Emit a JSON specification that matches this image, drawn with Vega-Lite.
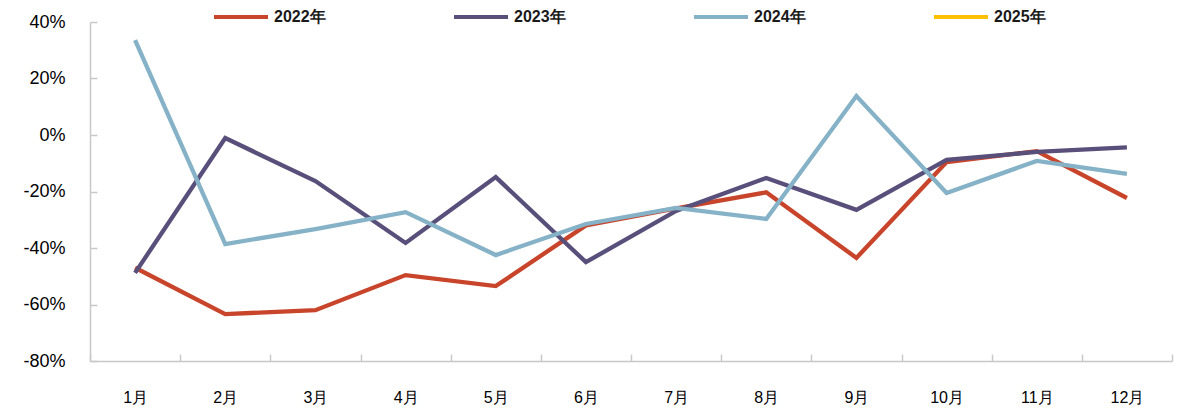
{
  "$schema": "https://vega.github.io/schema/vega-lite/v6.json",
  "autosize": "none",
  "width": 1082,
  "height": 339,
  "padding": {"left": 90, "top": 22, "right": 11, "bottom": 50},
  "background": "white",
  "config": {"view": {"stroke": null}, "font": "Liberation Sans"},
  "data": {"values": [
    {"m": "1月", "year": "2022年", "v": -47},
    {"m": "2月", "year": "2022年", "v": -63.4},
    {"m": "3月", "year": "2022年", "v": -62},
    {"m": "4月", "year": "2022年", "v": -49.6},
    {"m": "5月", "year": "2022年", "v": -53.5},
    {"m": "6月", "year": "2022年", "v": -32},
    {"m": "7月", "year": "2022年", "v": -26},
    {"m": "8月", "year": "2022年", "v": -20.3},
    {"m": "9月", "year": "2022年", "v": -43.5},
    {"m": "10月", "year": "2022年", "v": -9.6},
    {"m": "11月", "year": "2022年", "v": -5.7},
    {"m": "12月", "year": "2022年", "v": -22.3},
    {"m": "1月", "year": "2023年", "v": -48.8},
    {"m": "2月", "year": "2023年", "v": -1.1},
    {"m": "3月", "year": "2023年", "v": -16.3},
    {"m": "4月", "year": "2023年", "v": -38.2},
    {"m": "5月", "year": "2023年", "v": -14.9},
    {"m": "6月", "year": "2023年", "v": -45},
    {"m": "7月", "year": "2023年", "v": -26.9},
    {"m": "8月", "year": "2023年", "v": -15.2},
    {"m": "9月", "year": "2023年", "v": -26.5},
    {"m": "10月", "year": "2023年", "v": -8.8},
    {"m": "11月", "year": "2023年", "v": -6},
    {"m": "12月", "year": "2023年", "v": -4.4},
    {"m": "1月", "year": "2024年", "v": 33.6},
    {"m": "2月", "year": "2024年", "v": -38.6},
    {"m": "3月", "year": "2024年", "v": -33.3},
    {"m": "4月", "year": "2024年", "v": -27.3},
    {"m": "5月", "year": "2024年", "v": -42.5},
    {"m": "6月", "year": "2024年", "v": -31.5},
    {"m": "7月", "year": "2024年", "v": -25.8},
    {"m": "8月", "year": "2024年", "v": -29.7},
    {"m": "9月", "year": "2024年", "v": 13.8},
    {"m": "10月", "year": "2024年", "v": -20.5},
    {"m": "11月", "year": "2024年", "v": -9.2},
    {"m": "12月", "year": "2024年", "v": -13.8}
  ]},
  "mark": {"type": "line", "strokeWidth": 4.3, "strokeJoin": "miter", "strokeCap": "butt"},
  "encoding": {
    "x": {
      "field": "m", "type": "ordinal",
      "sort": ["1月","2月","3月","4月","5月","6月","7月","8月","9月","10月","11月","12月"],
      "scale": {"paddingInner": 0, "paddingOuter": 0},
      "axis": {
        "title": null, "labelAngle": 0, "labelFontSize": 16, "labelColor": "#000000",
        "labelFont": "Liberation Sans",
        "domainColor": "#c8c8c8", "domainWidth": 1.5, "tickColor": "#c8c8c8", "tickWidth": 1.5,
        "tickSize": -7, "tickBand": "extent", "labelPadding": 35
      }
    },
    "y": {
      "field": "v", "type": "quantitative",
      "scale": {"domain": [-80, 40], "nice": false},
      "axis": {
        "title": null, "values": [-80, -60, -40, -20, 0, 20, 40],
        "labelExpr": "datum.value + '%'", "grid": false,
        "labelFontSize": 18, "labelColor": "#000000", "labelFont": "Liberation Sans",
        "domainColor": "#c8c8c8", "domainWidth": 1.5, "tickColor": "#c8c8c8", "tickWidth": 1.5,
        "tickSize": -7, "labelPadding": 32
      }
    },
    "color": {
      "field": "year", "type": "nominal",
      "scale": {
        "domain": ["2022年", "2023年", "2024年", "2025年"],
        "range": ["#C8442A", "#58507A", "#86B2C7", "#FFC000"]
      },
      "legend": {
        "title": null, "orient": "none", "legendX": 122, "legendY": -34,
        "direction": "horizontal", "columns": 4, "columnPadding": 120,
        "symbolType": "stroke", "symbolSize": 2916, "symbolStrokeWidth": 4,
        "labelFontSize": 16, "labelFontWeight": "bold", "labelColor": "#1a1a1a",
        "labelFont": "Liberation Sans", "labelOffset": 4
      }
    }
  }
}
